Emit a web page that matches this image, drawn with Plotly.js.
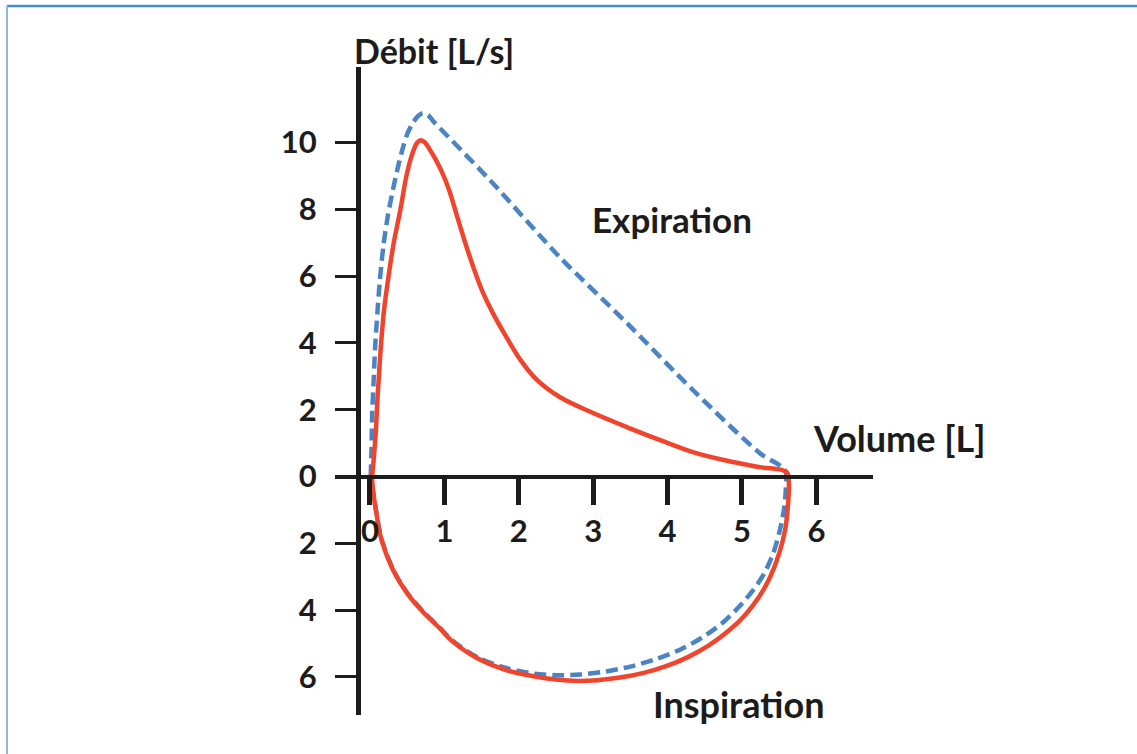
<!DOCTYPE html>
<html>
<head>
<meta charset="utf-8">
<script src="https://cdn.plot.ly/plotly-3.0.1.min.js"></script>
<style>
  html, body { margin: 0; padding: 0; background: #ffffff; }
  #chart { width: 1137px; height: 754px; }
</style>
</head>
<body>
<div id="chart"></div>
<script>
// Flow-volume loop: measured curve (solid red) and predicted curve (dashed blue)
// Volume in litres, flow in L/s (expiration positive, inspiration negative)

const measuredVolume = [
  0.03, 0.05, 0.08, 0.10, 0.12, 0.15, 0.19, 0.25, 0.32, 0.41, 0.49, 0.56, 0.63, 0.68,
  0.74, 0.80, 0.88, 0.96, 1.06, 1.17, 1.28, 1.40, 1.52, 1.65, 1.84, 2.02, 2.24, 2.55, 3.00,
  3.45, 3.90, 4.34, 4.80, 5.24, 5.60,
  5.63, 5.62, 5.58, 5.50, 5.38, 5.23, 5.04, 4.82, 4.56, 4.28, 3.98, 3.68, 3.36, 3.05, 2.80,
  2.50, 2.20, 1.84, 1.45, 1.10, 0.94, 0.71, 0.50, 0.31, 0.15, 0.08, 0.04, 0.03
];
const measuredFlow = [
  0.00, 0.50, 1.40, 2.30, 3.00, 4.00, 5.00, 6.00, 7.00, 8.00, 9.00, 9.60, 9.98, 10.07,
  10.00, 9.80, 9.50, 9.15, 8.60, 7.80, 7.00, 6.20, 5.50, 4.90, 4.15, 3.50, 2.90, 2.38, 1.90,
  1.48, 1.09, 0.73, 0.47, 0.28, 0.13,
  -0.20, -0.80, -1.60, -2.30, -3.00, -3.60, -4.15, -4.62, -5.05, -5.40, -5.68, -5.88, -6.02, -6.10, -6.12,
  -6.08, -5.98, -5.80, -5.45, -4.92, -4.55, -4.05, -3.50, -2.80, -1.85, -1.00, -0.40, 0.00
];

const predictedVolume = [
  0.01, 0.02, 0.03, 0.05, 0.07, 0.10, 0.13, 0.18, 0.24, 0.31, 0.38, 0.45, 0.51, 0.58, 0.65,
  0.71, 0.78, 0.85, 1.61, 2.55, 3.45, 4.34, 5.24, 5.58,
  5.59, 5.57, 5.51, 5.42, 5.30, 5.15, 4.96, 4.74, 4.48, 4.18, 3.84, 3.50, 3.16, 2.82,
  2.50, 2.20, 1.84, 1.45, 1.10, 0.94, 0.71, 0.50, 0.31, 0.15, 0.08, 0.04, 0.02
];
const predictedFlow = [
  0.00, 0.80, 1.90, 2.90, 3.90, 4.90, 5.80, 6.90, 7.80, 8.60, 9.30, 9.90, 10.30, 10.60, 10.80,
  10.88, 10.82, 10.64, 8.88, 6.57, 4.60, 2.59, 0.70, 0.19,
  -0.30, -0.90, -1.60, -2.30, -2.90, -3.40, -3.90, -4.38, -4.80, -5.17, -5.47, -5.69, -5.84, -5.93,
  -5.95, -5.90, -5.74, -5.42, -4.90, -4.53, -4.03, -3.48, -2.78, -1.84, -1.00, -0.40, 0.00
];

const volumeTicks = [0, 1, 2, 3, 4, 5, 6];
const volumeTickText = ['0', '1', '2', '3', '4', '5', '6'];
const flowTicks = [10, 8, 6, 4, 2, 0, -2, -4, -6];
const flowTickText = ['10', '8', '6', '4', '2', '0', '2', '4', '6'];

const fontFamily = 'Lato, "Open Sans", sans-serif';
const ink = '#1c1c1c';
const tickFont = { family: fontFamily, size: 31, color: ink, weight: 'bold' };
const labelFont = size => ({ family: fontFamily, size: size, color: ink, weight: 'bold' });

// plot area in pixels: x 335..873, y 67..715
const px = v => (v - 335) / 538;
const py = v => (715 - v) / 648;

const traces = [
  {
    x: predictedVolume, y: predictedFlow,
    type: 'scatter', mode: 'lines',
    line: { color: '#4a84c4', width: 4.5, dash: '12px,6px', shape: 'spline', smoothing: 0.8 },
    hoverinfo: 'skip'
  },
  {
    x: measuredVolume, y: measuredFlow,
    type: 'scatter', mode: 'lines',
    line: { color: '#f0442c', width: 4.5, shape: 'spline', smoothing: 1 },
    hoverinfo: 'skip'
  }
];

const layout = {
  width: 1137, height: 754,
  margin: { l: 335, r: 264, t: 67, b: 39, pad: 0 },
  paper_bgcolor: '#ffffff', plot_bgcolor: '#ffffff',
  showlegend: false,
  hovermode: false,
  xaxis: {
    range: [-0.47, 6.761],
    anchor: 'free', position: 0.368,
    showline: true, linecolor: ink, linewidth: 4,
    showgrid: false, zeroline: false,
    tickmode: 'array', tickvals: volumeTicks, ticktext: volumeTickText,
    ticks: 'outside', ticklen: 26, tickwidth: 5, tickcolor: ink,
    ticklabelstandoff: 0,
    tickfont: tickFont
  },
  yaxis: {
    range: [-7.14, 12.26],
    anchor: 'free', position: 0.0428,
    showline: true, linecolor: ink, linewidth: 5,
    showgrid: false, zeroline: false,
    tickmode: 'array', tickvals: flowTicks, ticktext: flowTickText,
    ticks: 'outside', ticklen: 21, tickwidth: 3, tickcolor: ink,
    ticklabelstandoff: 12,
    tickfont: tickFont
  },
  annotations: [
    { text: 'Débit [L/s]', xref: 'paper', yref: 'paper', x: px(434), y: py(50),
      xanchor: 'center', yanchor: 'middle', showarrow: false, font: labelFont(34) },
    { text: 'Expiration', xref: 'paper', yref: 'paper', x: px(672), y: py(219),
      xanchor: 'center', yanchor: 'middle', showarrow: false, font: labelFont(35) },
    { text: 'Volume [L]', xref: 'paper', yref: 'paper', x: px(899), y: py(438),
      xanchor: 'center', yanchor: 'middle', showarrow: false, font: labelFont(36) },
    { text: 'Inspiration', xref: 'paper', yref: 'paper', x: px(739), y: py(704),
      xanchor: 'center', yanchor: 'middle', showarrow: false, font: labelFont(36) }
  ],
  shapes: [
    // thin blue frame along the top and left edges
    { type: 'line', xref: 'paper', yref: 'paper',
      x0: px(7), x1: px(1137), y0: py(6), y1: py(6),
      line: { color: '#4a8ad0', width: 2.5 } },
    { type: 'line', xref: 'paper', yref: 'paper',
      x0: px(7), x1: px(7), y0: py(6), y1: py(760),
      line: { color: '#8fb8e4', width: 2 } }
  ]
};

Plotly.newPlot('chart', traces, layout, { displayModeBar: false, staticPlot: true });
</script>
</body>
</html>
